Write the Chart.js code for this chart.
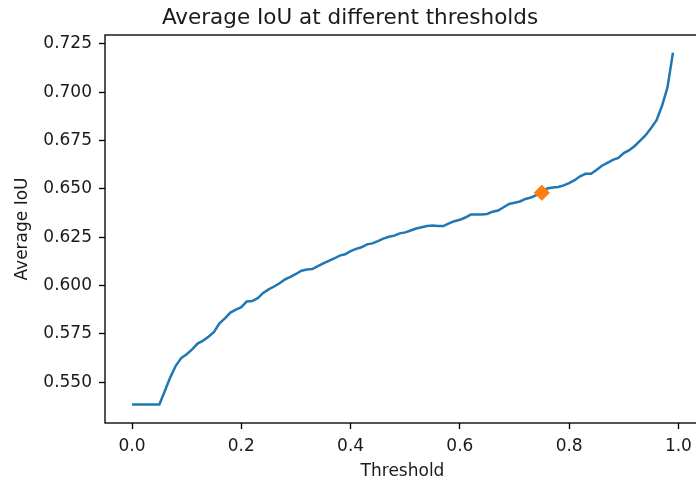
<!DOCTYPE html>
<html>
<head>
<meta charset="utf-8">
<script src="https://cdn.jsdelivr.net/npm/chart.js@4"></script>
<style>
  html, body { margin: 0; padding: 0; background: #fff; overflow: hidden; }
  canvas { display: block; }
</style>
</head>
<body>
<canvas id="iouChart" width="710" height="483"></canvas>
<script>
// thresholds swept and the mean IoU at each one
const thresholds = [
  0.00, 0.01, 0.02, 0.03, 0.04, 0.05, 0.06, 0.07, 0.08, 0.09,
  0.10, 0.11, 0.12, 0.13, 0.14, 0.15, 0.16, 0.17, 0.18, 0.19,
  0.20, 0.21, 0.22, 0.23, 0.24, 0.25, 0.26, 0.27, 0.28, 0.29,
  0.30, 0.31, 0.32, 0.33, 0.34, 0.35, 0.36, 0.37, 0.38, 0.39,
  0.40, 0.41, 0.42, 0.43, 0.44, 0.45, 0.46, 0.47, 0.48, 0.49,
  0.50, 0.51, 0.52, 0.53, 0.54, 0.55, 0.56, 0.57, 0.58, 0.59,
  0.60, 0.61, 0.62, 0.63, 0.64, 0.65, 0.66, 0.67, 0.68, 0.69,
  0.70, 0.71, 0.72, 0.73, 0.74, 0.75, 0.76, 0.77, 0.78, 0.79,
  0.80, 0.81, 0.82, 0.83, 0.84, 0.85, 0.86, 0.87, 0.88, 0.89,
  0.90, 0.91, 0.92, 0.93, 0.94, 0.95, 0.96, 0.97, 0.98, 0.99
];
const avgIou = [
  0.5385, 0.5385, 0.5385, 0.5385, 0.5385, 0.5385, 0.5455, 0.5525, 0.5585, 0.5625,
  0.5645, 0.5670, 0.5700, 0.5715, 0.5735, 0.5760, 0.5805, 0.5830, 0.5860, 0.5875,
  0.5888, 0.5918, 0.5920, 0.5935, 0.5962, 0.5980, 0.5995, 0.6012, 0.6032, 0.6045,
  0.6060, 0.6077, 0.6083, 0.6085, 0.6100, 0.6115, 0.6128, 0.6140, 0.6155, 0.6162,
  0.6178, 0.6190, 0.6198, 0.6213, 0.6218, 0.6230, 0.6243, 0.6252, 0.6258, 0.6270,
  0.6275, 0.6285, 0.6295, 0.6302, 0.6308, 0.6310, 0.6308, 0.6308, 0.6322, 0.6333,
  0.6340, 0.6352, 0.6367, 0.6367, 0.6367, 0.6370, 0.6382, 0.6388, 0.6405, 0.6422,
  0.6428, 0.6435, 0.6448, 0.6455, 0.6468, 0.6480, 0.6502, 0.6507, 0.6510, 0.6518,
  0.6530, 0.6545, 0.6565, 0.6578, 0.6578, 0.6598, 0.6620, 0.6635, 0.6650, 0.6660,
  0.6685, 0.6700, 0.6722, 0.6750, 0.6778, 0.6815, 0.6855, 0.6930, 0.7025, 0.7205
];

// chosen operating point
const bestThreshold = [0.75];
const bestIou = [0.648];

const xTicks = [0.0, 0.2, 0.4, 0.6, 0.8, 1.0];
const yTicks = [0.550, 0.575, 0.600, 0.625, 0.650, 0.675, 0.700, 0.725];

const textColor = '#1a1a1a';
const labelFont = { family: 'DejaVu Sans', size: 17 };

// closed box around the plot area, like a matplotlib axes frame
const frame = {
  id: 'frame',
  afterDraw(chart) {
    const { ctx, chartArea: a } = chart;
    ctx.save();
    ctx.strokeStyle = '#000';
    ctx.lineWidth = 1.35;
    ctx.strokeRect(a.left, a.top, a.right - a.left, a.bottom - a.top);
    ctx.restore();
  }
};

const ctx = document.getElementById('iouChart').getContext('2d');

new Chart(ctx, {
  type: 'line',
  data: {
    datasets: [
      {
        label: 'best',
        data: bestThreshold.map((t, i) => ({ x: t, y: bestIou[i] })),
        showLine: false,
        pointStyle: 'rectRot',
        pointRadius: 7.6,
        pointBackgroundColor: '#ff7f0e',
        pointBorderColor: '#ff7f0e',
        pointBorderWidth: 1,
        order: 0
      },
      {
        label: 'Average IoU',
        data: thresholds.map((t, i) => ({ x: t, y: avgIou[i] })),
        borderColor: '#1f77b4',
        borderWidth: 2.5,
        pointRadius: 0,
        tension: 0,
        fill: false,
        order: 1
      }
    ]
  },
  options: {
    responsive: false,
    animation: false,
    layout: { padding: { left: 0, right: 10, top: 0, bottom: 0 } },
    plugins: {
      legend: { display: false },
      tooltip: { enabled: false },
      title: {
        display: true,
        text: 'Average IoU at different thresholds',
        color: textColor,
        font: { family: 'DejaVu Sans', size: 21.5, weight: 'normal' },
        padding: { top: 5.5, bottom: 3.7 }
      }
    },
    scales: {
      x: {
        type: 'linear',
        min: -0.0495,
        max: 1.0395,
        afterBuildTicks: axis => { axis.ticks = xTicks.map(v => ({ value: v })); },
        afterFit: axis => { axis.height = 60; },
        border: { display: false },
        grid: { drawOnChartArea: false, drawTicks: true, tickLength: 6, tickColor: '#000', tickWidth: 1.35 },
        ticks: {
          color: textColor,
          font: labelFont,
          padding: 7,
          maxRotation: 0,
          callback: v => v.toFixed(1)
        },
        title: {
          display: true,
          text: 'Threshold',
          color: textColor,
          font: labelFont,
          padding: { top: 0, bottom: 1 }
        }
      },
      y: {
        type: 'linear',
        min: 0.5289,
        max: 0.7296,
        afterBuildTicks: axis => { axis.ticks = yTicks.map(v => ({ value: v })); },
        afterFit: axis => { axis.width = 105; },
        border: { display: false },
        grid: { drawOnChartArea: false, drawTicks: true, tickLength: 6, tickColor: '#000', tickWidth: 1.35 },
        ticks: {
          color: textColor,
          font: labelFont,
          padding: 7,
          callback: v => v.toFixed(3)
        },
        title: {
          display: true,
          text: 'Average IoU',
          color: textColor,
          font: labelFont,
          padding: { top: 12.5, bottom: 0 }
        }
      }
    }
  },
  plugins: [frame]
});
</script>
</body>
</html>
